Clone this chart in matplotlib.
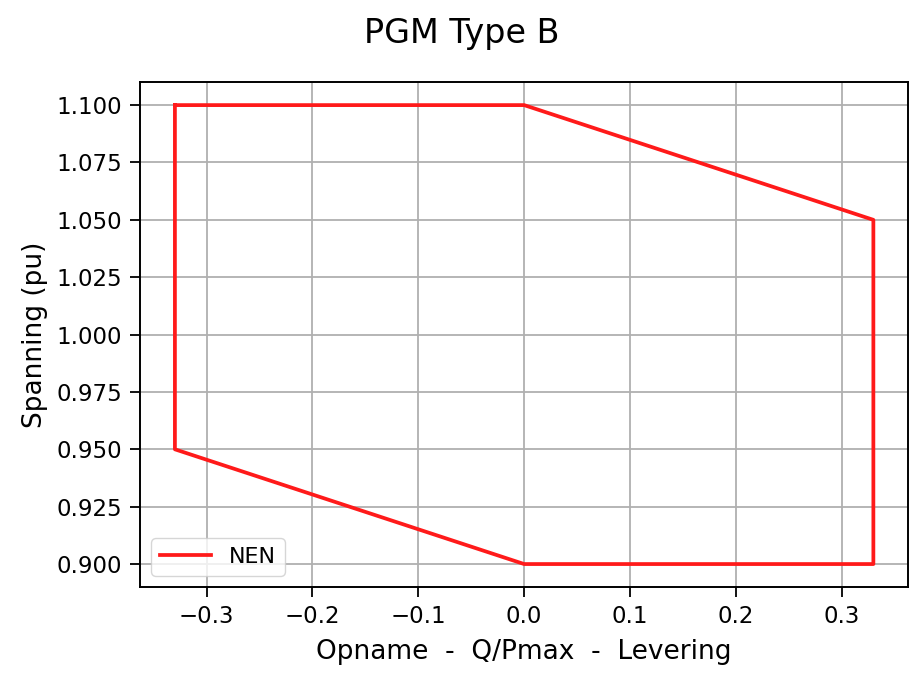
import matplotlib
matplotlib.use("Agg")
import matplotlib.pyplot as plt

q_pmax = [-0.33, 0.0, 0.33, 0.33, 0.0, -0.33, -0.33]
spanning = [1.10, 1.10, 1.05, 0.90, 0.90, 0.95, 1.10]
label = "NEN"
title = "PGM Type B"
xlabel = "Opname  -  Q/Pmax  -  Levering"
ylabel = "Spanning (pu)"

plt.rcParams['font.family'] = ['DejaVu Sans']
fig = plt.figure(figsize=(9.24, 6.79), dpi=100)
ax = fig.add_axes([0.1515, 0.1355, 0.8315, 0.7435])
ax.plot(q_pmax, spanning, color='#ff1a1a', lw=2.7, label=label)
ax.grid(True, color='#b0b0b0', lw=1.3)
ax.set_yticks([0.9, 0.925, 0.95, 0.975, 1.0, 1.025, 1.05, 1.075, 1.1])
ax.yaxis.set_major_formatter(matplotlib.ticker.FormatStrFormatter('%.3f'))
ax.tick_params(labelsize=16.5, length=7, width=1.3, pad=6)
for s in ax.spines.values():
    s.set_linewidth(1.4)
ax.set_xlabel(xlabel, fontsize=19, labelpad=8)
ax.set_ylabel(ylabel, fontsize=19, labelpad=6)
fig.suptitle(title, fontsize=24, y=0.975)
ax.legend(loc='lower left', fontsize=16, handlelength=2.3)
fig.savefig("out.png", dpi=100)
